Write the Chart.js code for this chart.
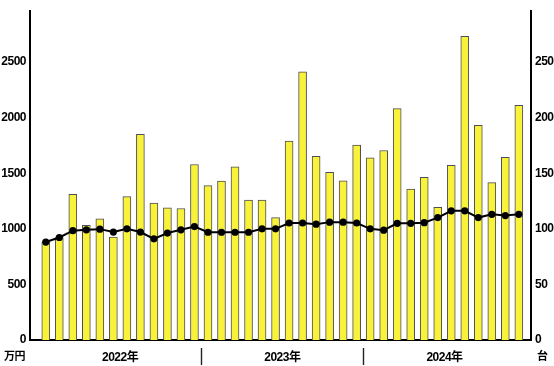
<!DOCTYPE html>
<html><head><meta charset="utf-8">
<script src="https://cdn.jsdelivr.net/npm/chart.js@4/dist/chart.umd.min.js"></script>
<style>html,body{margin:0;padding:0;background:#fff}#wrap{width:554px;height:366px}</style>
</head><body><div id="wrap"><canvas id="c" width="554" height="366"></canvas></div>
<script>
// month index 1..36 = 2022-01 .. 2024-12
const months = [1,2,3,4,5,6,7,8,9,10,11,12,13,14,15,16,17,18,19,20,21,22,23,24,25,26,27,28,29,30,31,32,33,34,35,36];
// bar series (left axis, 万円)
const amountManYen = [880, 922, 1310, 1032, 1090, 925, 1290, 1849, 1232, 1188, 1183, 1578,
                      1389, 1429, 1557, 1258, 1258, 1101, 1788, 2412, 1652, 1507, 1432, 1752,
                      1638, 1704, 2081, 1357, 1464, 1194, 1571, 2730, 1930, 1415, 1643, 2110];
// line series (right axis, 台)
const unitCount = [88.1, 92.2, 98.3, 99.1, 99.7, 97.1, 100, 97.1, 91, 96.2, 99.1, 102,
                   96.9, 96.9, 96.9, 96.9, 100, 100, 105.2, 105.2, 104.2, 106, 106, 105.2,
                   100, 98.8, 104.9, 104.9, 105.5, 110.1, 116.2, 116.2, 110.1, 113, 111.9, 113];
const leftTicks = [0, 500, 1000, 1500, 2000, 2500];
const rightTicks = [0, 50, 100, 150, 200, 250];
const yearLabels = ['2022年', '2023年', '2024年'];
const yearCenters = [6.5, 18.5, 30.5];
const yearSeparators = [12.5, 24.5];
const leftUnit = '万円';
const rightUnit = '台';

const FONT = '"Liberation Sans", "Noto Sans CJK JP", sans-serif';
Chart.defaults.font.family = FONT;
Chart.defaults.font.size = 12;
Chart.defaults.font.weight = 'bold';
Chart.defaults.color = '#000';

const decor = {
  id: 'decor',
  beforeDraw(chart) {
    if ('letterSpacing' in chart.ctx) chart.ctx.letterSpacing = '-0.5px';
  },
  afterDraw(chart) {
    const ctx = chart.ctx, x = chart.scales.x, area = chart.chartArea;
    ctx.save();
    ctx.strokeStyle = '#222';
    ctx.lineWidth = 1.4;
    yearSeparators.forEach(v => {
      const px = Math.round(x.getPixelForValue(v)) + 0.5;
      ctx.beginPath();
      ctx.moveTo(px, area.bottom + 8);
      ctx.lineTo(px, area.bottom + 25);
      ctx.stroke();
    });
    ctx.fillStyle = '#000';
    ctx.font = 'bold 11px ' + FONT;
    ctx.textBaseline = 'middle';
    ctx.textAlign = 'left';
    ctx.fillText(leftUnit, 4, 357);
    ctx.fillText(rightUnit, 537, 357);
    ctx.restore();
  }
};

new Chart(document.getElementById('c'), {
  data: {
    datasets: [
      {
        type: 'line',
        data: months.map((m, i) => ({x: m, y: unitCount[i]})),
        yAxisID: 'y1',
        borderColor: '#000',
        borderWidth: 2,
        pointBackgroundColor: '#000',
        pointBorderColor: '#000',
        pointBorderWidth: 0,
        pointRadius: 3.6,
        tension: 0,
        order: 0
      },
      {
        type: 'bar',
        data: months.map((m, i) => ({x: m, y: amountManYen[i]})),
        yAxisID: 'y',
        backgroundColor: '#f8f23a',
        borderColor: '#4d4d57',
        borderWidth: 1,
        barThickness: 8,
        order: 1
      }
    ]
  },
  options: {
    responsive: false,
    animation: false,
    devicePixelRatio: 1,
    layout: {padding: 0},
    plugins: {legend: {display: false}, tooltip: {enabled: false}},
    scales: {
      x: {
        type: 'linear',
        offset: false,
        min: -0.168,
        max: 36.9,
        grid: {display: false, drawTicks: false, offset: false},
        border: {color: '#000', width: 2},
        afterBuildTicks(s) { s.ticks = yearCenters.map(v => ({value: v})); },
        ticks: {
          autoSkip: false, maxRotation: 0, padding: 10,
          callback: (v, i) => yearLabels[i]
        },
        afterFit(s) { s.height = 26; }
      },
      y: {
        position: 'left',
        min: 0, max: 2957,
        grid: {display: false, drawTicks: false},
        border: {color: '#000', width: 2},
        afterBuildTicks(s) { s.ticks = leftTicks.map(v => ({value: v})); },
        ticks: {padding: 4, font: {size: 12}, callback: v => String(v)},
        afterFit(s) { s.width = 30; }
      },
      y1: {
        position: 'right',
        min: 0, max: 295.7,
        grid: {display: false, drawTicks: false},
        border: {color: '#000', width: 2},
        afterBuildTicks(s) { s.ticks = rightTicks.map(v => ({value: v})); },
        ticks: {padding: 4, font: {size: 12}, callback: v => String(v)},
        afterFit(s) { s.width = 23; }
      }
    }
  },
  plugins: [decor]
});
</script></body></html>
